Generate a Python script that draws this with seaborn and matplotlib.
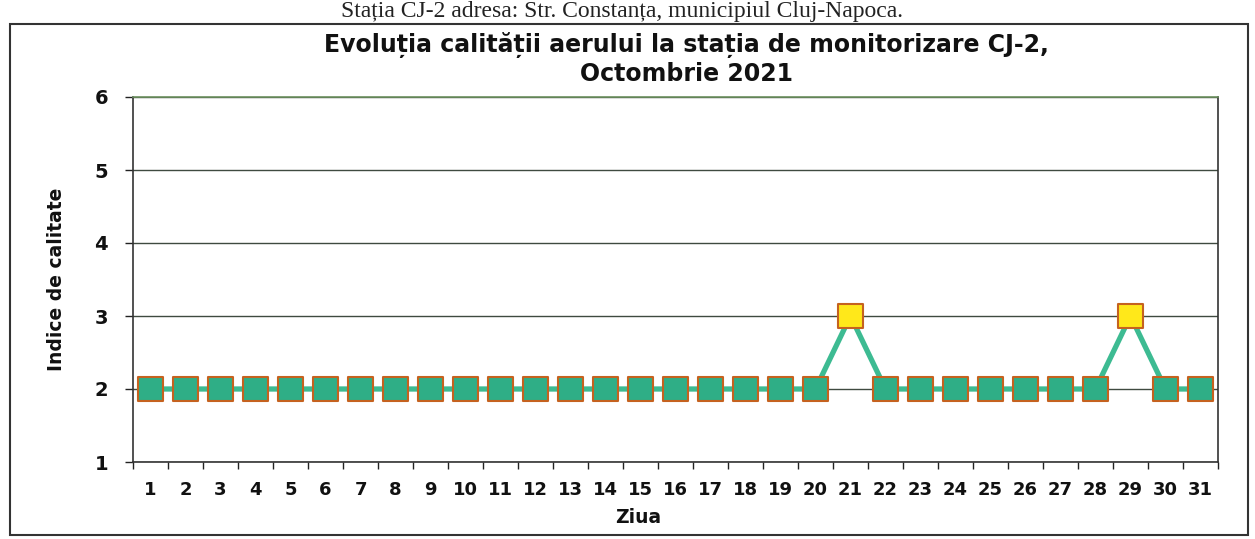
import matplotlib
matplotlib.use("Agg")
import matplotlib.pyplot as plt
import seaborn as sns
import pandas as pd
from matplotlib.patches import Rectangle
from matplotlib.ticker import FixedLocator

days = list(range(1, 32))
index_values = [2, 2, 2, 2, 2, 2, 2, 2, 2, 2,
                2, 2, 2, 2, 2, 2, 2, 2, 2, 2,
                3, 2, 2, 2, 2, 2, 2, 2, 3, 2, 2]
y_ticks = [1, 2, 3, 4, 5, 6]

title = "Evoluția calității aerului la stația de monitorizare CJ-2,\nOctombrie 2021"
header = "Stația CJ-2 adresa: Str. Constanța, municipiul Cluj-Napoca."

df = pd.DataFrame({"Ziua": days, "Indice": index_values})
df["cls"] = ["mediu" if v >= 3 else "bun" for v in index_values]

sns.set_style("white")
plt.rcParams["font.family"] = ["DejaVu Sans"]

fig = plt.figure(figsize=(12.55, 5.39), dpi=100)
ax = fig.add_axes([133 / 1255, 1 - 462 / 539, (1218 - 133) / 1255, (462 - 97) / 539])

for y in y_ticks:
    ax.axhline(y, color="#3f4a40", lw=1.0, zorder=0)

sns.lineplot(data=df, x="Ziua", y="Indice", ax=ax, color="#3dbb92", lw=3.8,
             zorder=2, legend=False)
sns.scatterplot(data=df, x="Ziua", y="Indice", hue="cls",
                palette={"bun": "#2fae86", "mediu": "#ffe81a"},
                marker="s", s=310, edgecolor="#c5621f", linewidth=1.5,
                ax=ax, zorder=3, legend=False)

ax.set_xlim(0.5, 31.5)
ax.set_ylim(1, 6)
ax.set_yticks(y_ticks)
ax.set_xticks(days)
ax.xaxis.set_minor_locator(FixedLocator([d + 0.5 for d in range(0, 32)]))
ax.tick_params(axis="x", which="major", length=0, pad=14, labelsize=13, labelcolor="#111111")
ax.tick_params(axis="x", which="minor", length=5, width=1, color="#222222", direction="out")
ax.tick_params(axis="y", length=6, width=1, color="#222222", pad=12, labelsize=14,
               direction="out", labelcolor="#111111")
for lab in ax.get_xticklabels() + ax.get_yticklabels():
    lab.set_fontweight("bold")
ax.xaxis.set_ticks_position("bottom")
ax.yaxis.set_ticks_position("left")

for side in ["left", "bottom", "right", "top"]:
    ax.spines[side].set_visible(True)
    ax.spines[side].set_color("#333333")
    ax.spines[side].set_linewidth(1.2)
ax.spines["top"].set_color("#6b8f5e")

ax.set_xlabel("Ziua", fontsize=13.5, fontweight="bold", color="#111111")
ax.xaxis.set_label_coords((638 - 133) / 1085, -0.125)
ax.set_ylabel("Indice de calitate", fontsize=13.5, fontweight="bold", color="#111111")
ax.yaxis.set_label_coords(-0.062, 0.5)

fig.text(0.547, 1 - 59 / 539, title, ha="center", va="center",
         fontsize=17, fontweight="bold", linespacing=1.2, color="#111111")

fig.text(0.496, 1 - 17 / 539, header, ha="center", va="baseline",
         fontsize=17, family=["Liberation Serif", "DejaVu Serif"], color="#222222")

fig.patches.append(Rectangle((10 / 1255, 4 / 539), 1238 / 1255, (535 - 24) / 539,
                             transform=fig.transFigure, fill=False,
                             edgecolor="#333333", lw=1.5))

fig.savefig("out.png", dpi=100)
